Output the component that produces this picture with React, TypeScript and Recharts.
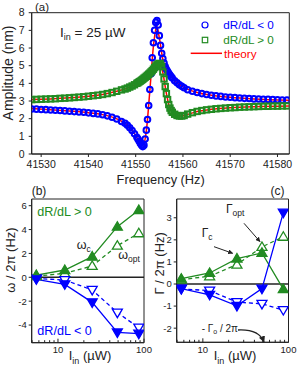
import React from 'react';
import {
  ComposedChart, Line, Scatter, XAxis, YAxis, ReferenceLine, ReferenceArea,
} from 'recharts';

const BLUE = '#0000ff';
const GREEN = '#228b22';
const RED = '#ff0000';
const INK = '#222';

// ---- panel (a): amplitude vs frequency, I_in = 25 uW ----
const FREQ = [
  41528, 41529, 41530, 41531, 41532, 41533, 41534, 41535, 41536, 41537,
  41538, 41539, 41540, 41541, 41542, 41543, 41544, 41545, 41546, 41547,
  41547.75, 41548.25, 41548.75, 41549.25, 41549.75, 41550.25,
  41550.5, 41550.75, 41551, 41551.25, 41551.5, 41551.75, 41552, 41552.25, 41552.5, 41552.75,
  41553, 41553.25, 41553.5, 41553.75, 41554, 41554.25, 41554.5, 41554.75, 41555, 41555.25,
  41555.5, 41555.75, 41556, 41556.25, 41556.5, 41556.75, 41557, 41557.25, 41557.5, 41557.75,
  41558.25, 41558.75, 41559.25, 41559.75, 41560.25,
  41561, 41562, 41563, 41564, 41565, 41566, 41567, 41568, 41569, 41570, 41571,
  41572, 41573, 41574, 41575, 41576, 41577, 41578, 41579, 41580, 41581, 41582,
];
// dR/dL < 0 (blue circles)
const AMP_NEG = [
  2.55, 2.54, 2.52, 2.51, 2.49, 2.48, 2.46, 2.44, 2.42, 2.40,
  2.38, 2.36, 2.33, 2.30, 2.27, 2.22, 2.16, 2.08, 1.98, 1.84,
  1.74, 1.63, 1.49, 1.33, 1.15, 0.95,
  0.84, 0.72, 0.6, 0.5, 0.42, 0.5, 0.85, 1.35, 1.95, 2.75,
  3.65, 4.55, 5.45, 6.3, 7.0, 7.45, 7.55, 7.3, 6.7, 6.15,
  5.7, 5.4, 5.15, 4.95, 4.8, 4.68, 4.57, 4.47, 4.38, 4.3,
  4.15, 4.03, 3.92, 3.83, 3.75,
  3.64, 3.55, 3.48, 3.42, 3.37, 3.33, 3.29, 3.26, 3.23, 3.21, 3.19,
  3.17, 3.15, 3.14, 3.12, 3.11, 3.10, 3.09, 3.08, 3.07, 3.06, 3.05,
];
// dR/dL > 0 (green squares)
const AMP_POS = [
  3.08, 3.09, 3.10, 3.11, 3.12, 3.13, 3.15, 3.16, 3.18, 3.20,
  3.22, 3.24, 3.27, 3.30, 3.33, 3.37, 3.42, 3.48, 3.55, 3.63,
  3.68, 3.73, 3.79, 3.85, 3.92, 4.0,
  4.04, 4.09, 4.13, 4.18, 4.23, 4.29, 4.34, 4.4, 4.46, 4.52,
  4.58, 4.65, 4.72, 4.8, 4.89, 4.98, 5.05, 5.1, 5.13, 5.1,
  4.95, 4.65, 4.25, 3.82, 3.42, 3.08, 2.8, 2.6, 2.46, 2.36,
  2.25, 2.18, 2.15, 2.15, 2.18,
  2.26, 2.34, 2.41, 2.46, 2.50, 2.53, 2.56, 2.58, 2.60, 2.62, 2.63,
  2.65, 2.66, 2.67, 2.68, 2.69, 2.70, 2.70, 2.71, 2.71, 2.72, 2.72,
];
// theory curves
const TH_NEG_F = [
  41528, 41532, 41536, 41540, 41543, 41546, 41548.25, 41549.75, 41550.75, 41551.55,
  41552.25, 41553, 41553.75, 41554.45, 41555.05, 41555.75, 41556.55, 41557.45, 41558.25,
  41559.45, 41560.75, 41563, 41566, 41570, 41575, 41582.5,
];
const TH_NEG_A = [
  2.57, 2.50, 2.43, 2.34, 2.23, 1.99, 1.64, 1.15, 0.72, 0.5,
  1.3, 3.6, 6.1, 7.25, 6.5, 5.35, 4.8, 4.4, 4.15,
  3.9, 3.7, 3.48, 3.33, 3.21, 3.12, 3.05,
];
const TH_POS_F = [
  41528, 41532, 41536, 41540, 41543, 41546, 41548.25, 41550.25, 41552.25, 41553.75,
  41554.75, 41555.25, 41555.75, 41556.45, 41557.05, 41557.75, 41558.55, 41559.45,
  41560.75, 41563, 41566, 41570, 41575, 41582.5,
];
const TH_POS_A = [
  3.08, 3.12, 3.18, 3.27, 3.37, 3.55, 3.73, 4.0, 4.4, 4.8,
  5.08, 5.1, 4.6, 3.5, 2.75, 2.36, 2.2, 2.15,
  2.22, 2.41, 2.53, 2.62, 2.68, 2.72,
];
const FREQ_TICKS = [41530, 41540, 41550, 41560, 41570, 41580];
const AMP_TICKS = [0, 1, 2, 3, 4, 5, 6, 7, 8];
const F_DOMAIN: [number, number] = [41528, 41582.5];

// ---- panels (b) and (c): vs input power ----
const POWER = [5.6, 12, 25, 49, 87];
const OMEGA_C_POS = [0.19, 0.61, 1.73, 4.24, 5.64];
const OMEGA_OPT_POS = [0.1, 0.33, 0.95, 2.65, 3.69];
const OMEGA_C_NEG = [-0.17, -0.59, -2.1, -4.62, -4.72];
const OMEGA_OPT_NEG = [-0.1, -0.23, -1.06, -2.96, -4.22];
const GAMMA_C_POS = [0.24, 0.5, 1.15, 1.41, -0.23];
const GAMMA_OPT_POS = [0.2, 0.35, 0.88, 1.68, 2.14];
const GAMMA_C_NEG = [-0.21, -0.49, -0.99, -0.21, 3.23];
const GAMMA_OPT_NEG = [-0.22, -0.3, -0.82, -0.9, -1.18];
const POWER_TICKS = [5, 6, 7, 8, 9, 10, 20, 30, 40, 50, 60, 70, 80, 90, 100];
const P_DOMAIN: [number, number] = [4.95, 100];

const rows = (xs: number[], ys: number[]) => xs.map((f, i) => ({ f, a: ys[i] }));
const pRows = (ys: number[]) => POWER.map((p, i) => ({ p, v: ys[i] }));

const openCircle = (p: any) => (
  <circle cx={p.cx} cy={p.cy} r={2.8} fill="none" stroke={BLUE} strokeWidth={2} />
);
const openSquare = (p: any) => (
  <rect x={p.cx - 2.7} y={p.cy - 2.7} width={5.4} height={5.4} fill="none" stroke={GREEN} strokeWidth={2} />
);

// triangle markers; up = ▲, down = ▼
const tri = (color: string, filled: boolean, up: boolean) => (p: any) => {
  const { cx, cy, index } = p;
  if (cx == null || cy == null) return <g key={index} />;
  const pts = up
    ? `${cx - 5},${cy + 3.5} ${cx + 5},${cy + 3.5} ${cx},${cy - 5}`
    : `${cx - 5},${cy - 3.5} ${cx + 5},${cy - 3.5} ${cx},${cy + 5}`;
  return (
    <polygon key={index} points={pts} fill={filled ? color : '#fff'} stroke={color} strokeWidth={1.3} />
  );
};

const LogTick = (p: any) => {
  const { x, y, payload } = p;
  const v = payload.value;
  const major = v === 10 || v === 100;
  return (
    <g>
      <line x1={x} x2={x} y1={y} y2={y - (major ? 4 : 2.5)} stroke={INK} strokeWidth={1} />
      {major && (
        <text x={x} y={y + 10.5} textAnchor="middle" fontSize={9.5} fill={INK}>{v}</text>
      )}
    </g>
  );
};

const yTick = { fontSize: 9.5, fill: INK };

function PowerPanel(props: {
  w: number; right: number; yw: number; xh: number; yDomain: [number, number]; yTicks: number[];
  series: { ys: number[]; color: string; filled: boolean; up: boolean }[];
}) {
  const { w, right, yw, xh, yDomain, yTicks, series } = props;
  return (
    <ComposedChart width={w} height={177} margin={{ top: 10, right, bottom: 0, left: 0 }}>
      <XAxis
        dataKey="p" type="number" scale="log" domain={P_DOMAIN} ticks={POWER_TICKS}
        allowDataOverflow interval={0} height={xh} tickSize={0} tickMargin={0}
        tick={(t: any) => <LogTick {...t} />} stroke={INK}
      />
      <YAxis
        type="number" domain={yDomain} ticks={yTicks} allowDataOverflow interval={0}
        width={yw} tickSize={3} tickMargin={2} tick={yTick} stroke={INK}
      />
      <ReferenceArea x1={P_DOMAIN[0]} x2={P_DOMAIN[1]} y1={yDomain[0]} y2={yDomain[1]} fill="none" stroke={INK} strokeOpacity={1} />
      <ReferenceLine y={0} stroke={INK} strokeWidth={1.5} />
      {series.map((s, i) => (
        <Line
          key={i} data={pRows(s.ys)} dataKey="v" stroke={s.color} strokeWidth={1.3}
          strokeDasharray={s.filled ? undefined : '4 3'} dot={tri(s.color, s.filled, s.up)}
          isAnimationActive={false}
        />
      ))}
    </ComposedChart>
  );
}

export default function App() {
  return (
    <div style={{ position: 'relative', width: 299, height: 366, fontFamily: '"Liberation Sans", Arial, sans-serif', background: '#fff' }}>
      <style>{'body{margin:0}'}</style>

      {/* (a) */}
      <div style={{ position: 'absolute', left: 0, top: 0 }}>
        <ComposedChart width={299} height={190} margin={{ top: 12.7, right: 9.7, bottom: 0, left: 0 }}>
          <XAxis
            dataKey="f" type="number" domain={F_DOMAIN} ticks={FREQ_TICKS} allowDataOverflow interval={0}
            height={36} tickSize={3} tickMargin={4} tick={{ fontSize: 10.5, fill: INK }} stroke={INK}
          />
          <YAxis
            type="number" domain={[0, 8]} ticks={AMP_TICKS} allowDataOverflow interval={0}
            width={31.7} tickSize={3} tickMargin={4} tick={{ fontSize: 10.5, fill: INK }} stroke={INK}
          />
          <ReferenceArea x1={F_DOMAIN[0]} x2={F_DOMAIN[1]} y1={0} y2={8} fill="none" stroke={INK} strokeOpacity={1} />
          <Scatter data={rows(FREQ, AMP_NEG)} dataKey="a" shape={openCircle} isAnimationActive={false} />
          <Scatter data={rows(FREQ, AMP_POS)} dataKey="a" shape={openSquare} isAnimationActive={false} />
          <Line data={rows(TH_NEG_F, TH_NEG_A)} dataKey="a" type="monotone" stroke={RED} strokeWidth={1.5} dot={false} isAnimationActive={false} />
          <Line data={rows(TH_POS_F, TH_POS_A)} dataKey="a" type="monotone" stroke={RED} strokeWidth={1.5} dot={false} isAnimationActive={false} />
        </ComposedChart>
      </div>

      {/* (b) — wider surface so the "100" tick label is not clipped */}
      <div style={{ position: 'absolute', left: 0, top: 189 }}>
        <PowerPanel
          w={160} right={16} yw={31.7} xh={23.3} yDomain={[-5.48, 6.56]} yTicks={[-4, -2, 0, 2, 4, 6]}
          series={[
            { ys: OMEGA_OPT_POS, color: GREEN, filled: false, up: true },
            { ys: OMEGA_OPT_NEG, color: BLUE, filled: false, up: false },
            { ys: OMEGA_C_POS, color: GREEN, filled: true, up: true },
            { ys: OMEGA_C_NEG, color: BLUE, filled: true, up: false },
          ]}
        />
      </div>

      {/* (c) */}
      <div style={{ position: 'absolute', left: 150, top: 189 }}>
        <PowerPanel
          w={149} right={10.5} yw={26.7} xh={23.7} yDomain={[-2.64, 3.85]} yTicks={[-2, -1, 0, 1, 2, 3]}
          series={[
            { ys: GAMMA_OPT_POS, color: GREEN, filled: false, up: true },
            { ys: GAMMA_OPT_NEG, color: BLUE, filled: false, up: false },
            { ys: GAMMA_C_POS, color: GREEN, filled: true, up: true },
            { ys: GAMMA_C_NEG, color: BLUE, filled: true, up: false },
          ]}
        />
      </div>

      {/* labels and annotations */}
      <svg width={299} height={366} style={{ position: 'absolute', left: 0, top: 0, pointerEvents: 'none' }}>
        <defs>
          <marker id="ah" viewBox="0 0 10 10" refX="9" refY="5" markerWidth="5" markerHeight="5" orient="auto">
            <path d="M0,0 L10,5 L0,10 z" fill={INK} />
          </marker>
        </defs>
        <g fill={INK}>
          <text x={35} y={10.5} fontSize={11.5}>(a)</text>
          <text x={60} y={37.3} fontSize={13.5}>I<tspan dy={3} fontSize={9}>in</tspan><tspan dy={-3}> = 25 µW</tspan></text>
          <text transform="translate(12.5,73) rotate(-90)" textAnchor="middle" fontSize={14}>Amplitude (nm)</text>
          <text x={160.7} y={183.5} textAnchor="middle" fontSize={12.8}>Frequency (Hz)</text>

          <text x={31.7} y={194.5} fontSize={12}>(b)</text>
          <text x={270.5} y={194.5} fontSize={12}>(c)</text>

          <text x={76.7} y={249} fontSize={12.5}>ω<tspan dy={3} fontSize={8.5}>c</tspan></text>
          <text x={118.3} y={259} fontSize={12.5}>ω<tspan dy={3} fontSize={8.5}>opt</tspan></text>
          <text transform="translate(15,260) rotate(-90)" textAnchor="middle" fontSize={13}>ω / 2π (Hz)</text>
          <text x={90} y={360} textAnchor="middle" fontSize={13}>I<tspan dy={4} fontSize={9}>in</tspan><tspan dy={-4}> (µW)</tspan></text>

          <text x={201.7} y={236.7} fontSize={12}>Γ<tspan dy={3} fontSize={8.5}>c</tspan></text>
          <text x={226} y={213.3} fontSize={12}>Γ<tspan dy={3} fontSize={8.5}>opt</tspan></text>
          <text x={201.7} y={331.7} fontSize={10}>- Γ<tspan dy={2.5} fontSize={7}>o</tspan><tspan dy={-2.5}> / 2π</tspan></text>
          <text transform="translate(163.5,263.3) rotate(-90)" textAnchor="middle" fontSize={13}>Γ / 2π (Hz)</text>
          <text x={235} y={360} textAnchor="middle" fontSize={13}>I<tspan dy={4} fontSize={9}>in</tspan><tspan dy={-4}> (µW)</tspan></text>
        </g>
        <line x1={214} y1={246.7} x2={232.7} y2={253.3} stroke={INK} strokeWidth={1} markerEnd="url(#ah)" />
        <line x1={244} y1={223.3} x2={260} y2={241.7} stroke={INK} strokeWidth={1} markerEnd="url(#ah)" />
        <path d="M238,330 Q259,329 264,342" fill="none" stroke={INK} strokeWidth={1.3} markerEnd="url(#ah)" />

        <text x={37.3} y={216} fontSize={12.6} fill={GREEN}>dR/dL &gt; 0</text>
        <text x={37.3} y={335} fontSize={12.6} fill={BLUE}>dR/dL &lt; 0</text>

        {/* legend of (a) */}
        <circle cx={205} cy={25} r={3} fill="none" stroke={BLUE} strokeWidth={1.2} />
        <text x={223.3} y={29.2} fontSize={11.7} fill={BLUE}>dR/dL &lt; 0</text>
        <rect x={202.3} y={37.3} width={5.4} height={5.4} fill="none" stroke={GREEN} strokeWidth={1.2} />
        <text x={223.3} y={44.2} fontSize={11.7} fill={GREEN}>dR/dL &gt; 0</text>
        <line x1={190.7} x2={222} y1={53.3} y2={53.3} stroke={RED} strokeWidth={1.5} />
        <text x={224} y={57.5} fontSize={11.7} fill={RED}>theory</text>
      </svg>
    </div>
  );
}
